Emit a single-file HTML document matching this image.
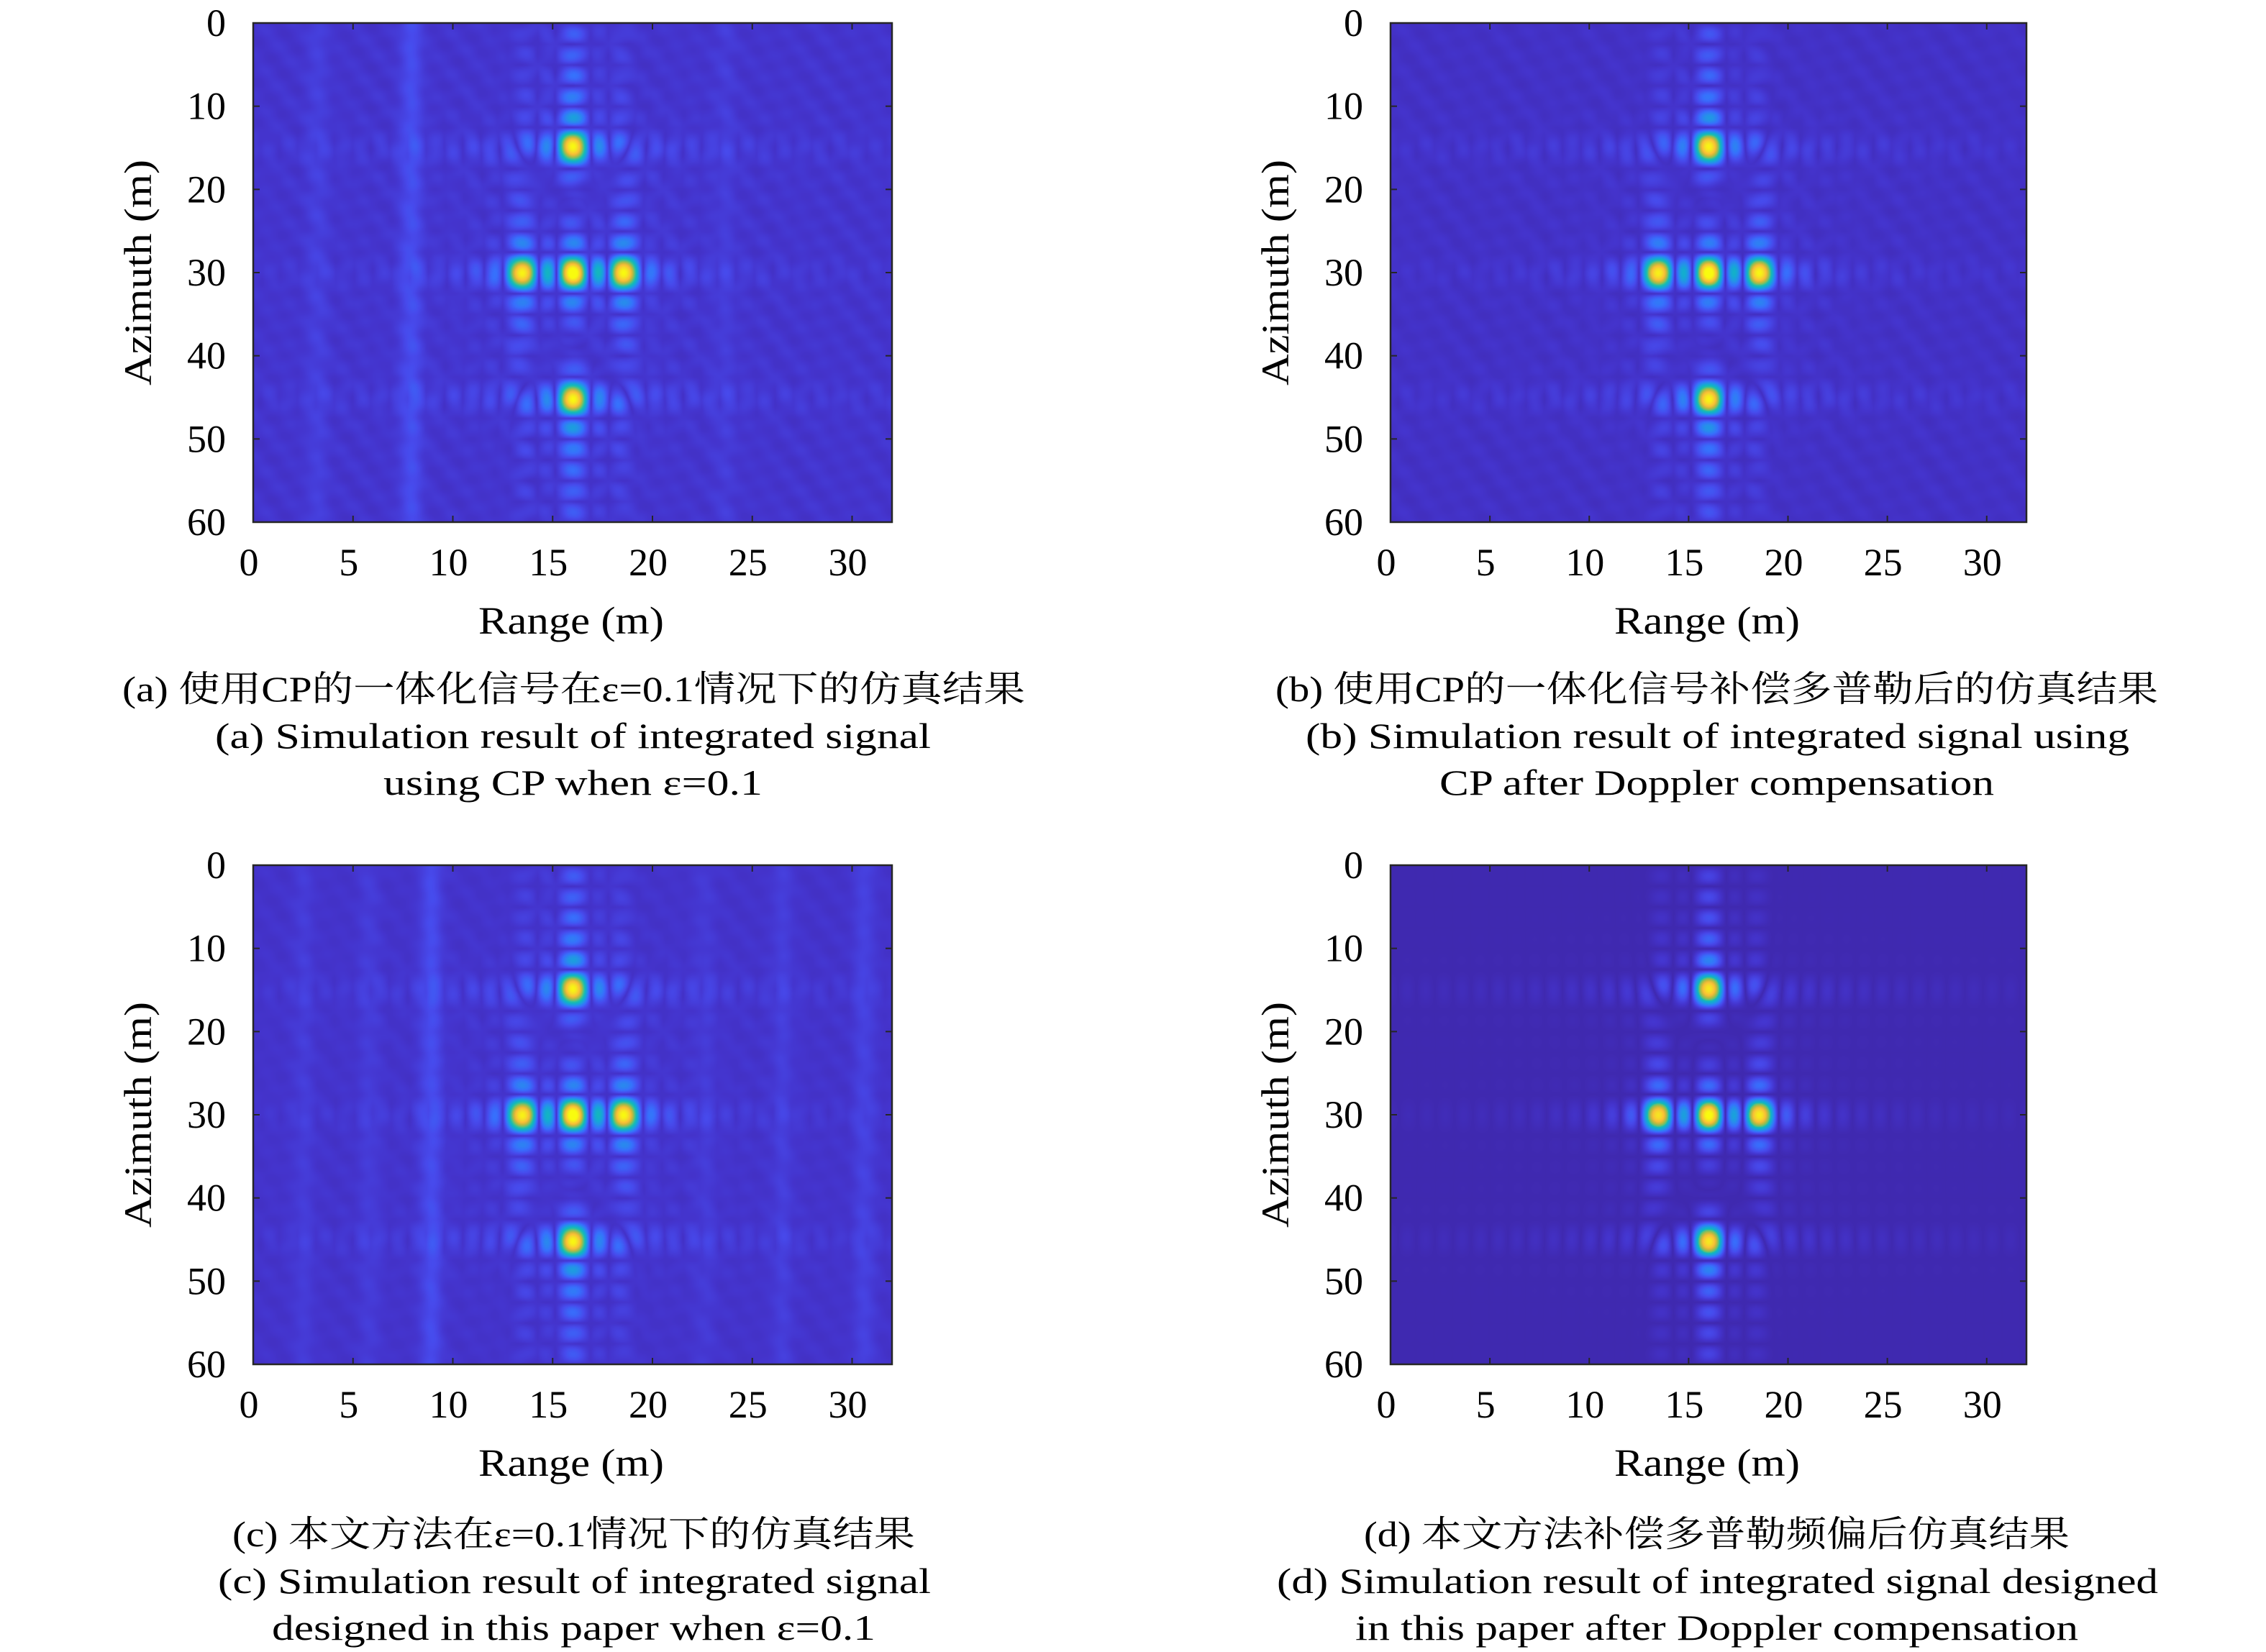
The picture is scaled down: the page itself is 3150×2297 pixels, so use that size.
<!DOCTYPE html>
<html><head><meta charset="utf-8">
<style>
html,body{margin:0;padding:0;background:#fff;}
#wrap{position:relative;width:3150px;height:2297px;overflow:hidden;background:#fff;}
canvas{position:absolute;}
svg{position:absolute;left:0;top:0;}
text{font-family:"Liberation Serif","Noto Serif CJK SC","Noto Sans CJK SC",serif;fill:#000;}
</style></head>
<body>
<div id="wrap">
<canvas id="cA"></canvas>
<canvas id="cB"></canvas>
<canvas id="cC"></canvas>
<canvas id="cD"></canvas>
<svg id="ov" width="3150" height="2297"></svg>
</div>
<script>
// ---- data ----
const xTicks = [0,5,10,15,20,25,30];
const yTicks = [0,10,20,30,40,50,60];
const targetRange = [16, 13.4, 16, 18.6, 16];
const targetAzimuth = [15, 30, 30, 30, 45];
const targetAmp = [0.92, 0.9, 0.92, 0.93, 0.92];
const stripePosA = [3.2, 7.9, 23.6];
const stripeAmpA = [0.03, 0.065, 0.02];
const stripePosB = [];
const stripeAmpB = [];
const stripePosC = [2.5, 5.8, 8.9, 22.6, 26.5, 30.6];
const stripeAmpC = [0.025, 0.025, 0.065, 0.02, 0.03, 0.04];
const stripePosD = [];
const stripeAmpD = [];
const backgroundLevel = [0.045, 0.035, 0.045, 0.012];
const clutterLevel = [0.03, 0.025, 0.02, 0.0];
const sidelobeGain = [1.0, 0.95, 1.0, 0.9];

const XMAX = 32, YMAX = 60;
const panels = [
 {id:'cA', L:352, T:32, W:888, H:694, sp:stripePosA, sa:stripeAmpA, k:0, name:'a'},
 {id:'cB', L:1933, T:32, W:884, H:694, sp:stripePosB, sa:stripeAmpB, k:1, name:'b'},
 {id:'cC', L:352, T:1203, W:888, H:694, sp:stripePosC, sa:stripeAmpC, k:2, name:'c'},
 {id:'cD', L:1933, T:1203, W:884, H:694, sp:stripePosD, sa:stripeAmpD, k:3, name:'d'}
];
const parula = [
 [0.00,62,38,168],[0.06,68,52,205],[0.12,71,74,236],[0.2,55,112,253],[0.28,38,144,234],
 [0.36,20,170,212],[0.44,20,186,182],[0.52,60,193,148],[0.6,128,191,97],[0.7,200,185,60],
 [0.8,250,190,55],[0.9,246,220,40],[1.0,249,251,14]];
function cmap(v){
  v=Math.max(0,Math.min(1,v));
  for(let i=1;i<parula.length;i++){
    if(v<=parula[i][0]){const a=parula[i-1],b=parula[i];const t=(v-a[0])/(b[0]-a[0]);
      return [a[1]+t*(b[1]-a[1]),a[2]+t*(b[2]-a[2]),a[3]+t*(b[3]-a[3])];}
  }
  return parula[parula.length-1].slice(1);
}
function sinc(u){if(Math.abs(u)<1e-6)return 1;const p=Math.PI*u;return Math.sin(p)/p;}
const WR=0.92, WA=2.5;
panels.forEach(p=>{
  const c=document.getElementById(p.id);
  c.width=p.W;c.height=p.H;c.style.left=p.L+'px';c.style.top=p.T+'px';
  const ctx=c.getContext('2d');const img=ctx.createImageData(p.W,p.H);const d=img.data;
  for(let j=0;j<p.H;j++){
    const y=j/p.H*YMAX;
    for(let i=0;i<p.W;i++){
      const x=i/p.W*XMAX;
      let s=0;
      for(let t=0;t<targetRange.length;t++){
        s+=targetAmp[t]*sinc((x-targetRange[t])/WR)*sinc((y-targetAzimuth[t])/WA);
      }
      let v=Math.abs(s);
      v = v>0.5 ? v : v*sidelobeGain[p.k];
      let st=0;
      for(let q=0;q<p.sp.length;q++){const u=(x-p.sp[q])/0.55;st+=p.sa[q]*Math.exp(-u*u);}
      const cl=clutterLevel[p.k]*(0.5+0.25*Math.sin(x*2.3+y*0.7)*Math.sin(y*1.9-x*0.4)+0.25*Math.sin(x*4.1-y*1.3));
      v=backgroundLevel[p.k]+st+cl+v;
      const col=cmap(v);const o=(j*p.W+i)*4;
      d[o]=col[0];d[o+1]=col[1];d[o+2]=col[2];d[o+3]=255;
    }
  }
  ctx.putImageData(img,0,0);
});
// ---- overlay ----
const NS='http://www.w3.org/2000/svg';
const svg=document.getElementById('ov');
function mk(tag,attrs,txt){const e=document.createElementNS(NS,tag);for(const k in attrs)e.setAttribute(k,attrs[k]);if(txt!==undefined)e.textContent=txt;svg.appendChild(e);return e;}
panels.forEach(p=>{
  const fx=v=>p.L+v/XMAX*p.W, fy=v=>p.T+v/YMAX*p.H;
  const box=mk('rect',{x:p.L,y:p.T,width:p.W,height:p.H,fill:'none',stroke:'#262626','stroke-width':2.5});
  
  
  xTicks.forEach(v=>{
    const X=fx(v);
    const t1=mk('line',{x1:X,y1:p.T+p.H,x2:X,y2:p.T+p.H-9,stroke:'#262626','stroke-width':2});
    
    
    const t2=mk('line',{x1:X,y1:p.T,x2:X,y2:p.T+9,stroke:'#262626','stroke-width':2});
    
    
    const lb=mk('text',{x:X-6,y:p.T+p.H+74,'font-size':54,'text-anchor':'middle'},String(v));
    
    
  });
  yTicks.forEach(v=>{
    const Y=fy(v);
    const t1=mk('line',{x1:p.L,y1:Y,x2:p.L+9,y2:Y,stroke:'#262626','stroke-width':2});
    
    
    const t2=mk('line',{x1:p.L+p.W,y1:Y,x2:p.L+p.W-9,y2:Y,stroke:'#262626','stroke-width':2});
    
    
    const lb=mk('text',{x:p.L-38,y:Y+18,'font-size':54,'text-anchor':'end'},String(v));
    
    
  });
  const cx=p.L+p.W/2;
  const xl=mk('text',{x:cx-131,y:p.T+p.H+155,'font-size':54,textLength:258,lengthAdjust:'spacingAndGlyphs'},'Range (m)');
  
  
  const yx=p.L-142, yy=p.T+p.H/2;
  const yl=mk('text',{x:yx,y:yy,'font-size':54,'text-anchor':'middle',transform:'rotate(-90 '+yx+' '+yy+')',textLength:314,lengthAdjust:'spacingAndGlyphs'},'Azimuth (m)');
  
  
});
const captions=[
 [170,975,1255,'(a) 使用CP的一体化信号在ε=0.1情况下的仿真结果'],
 [299,1040,995,'(a) Simulation result of integrated signal'],
 [533,1105,527,'using CP when ε=0.1'],
 [1773,975,1227,'(b) 使用CP的一体化信号补偿多普勒后的仿真结果'],
 [1815,1040,1145,'(b) Simulation result of integrated signal using'],
 [2001,1105,771,'CP after Doppler compensation'],
 [323,2150,949,'(c) 本文方法在ε=0.1情况下的仿真结果'],
 [303,2215,991,'(c) Simulation result of integrated signal'],
 [378,2280,839,'designed in this paper when ε=0.1'],
 [1896,2150,981,'(d) 本文方法补偿多普勒频偏后仿真结果'],
 [1775,2215,1225,'(d) Simulation result of integrated signal designed'],
 [1884,2280,1005,'in this paper after Doppler compensation']
];
captions.forEach((c,i)=>{
  const t=mk('text',{x:c[0],y:c[1],'font-size':50,textLength:c[2],lengthAdjust:'spacingAndGlyphs'},c[3]);
  
  
});
</script>
</body></html>
